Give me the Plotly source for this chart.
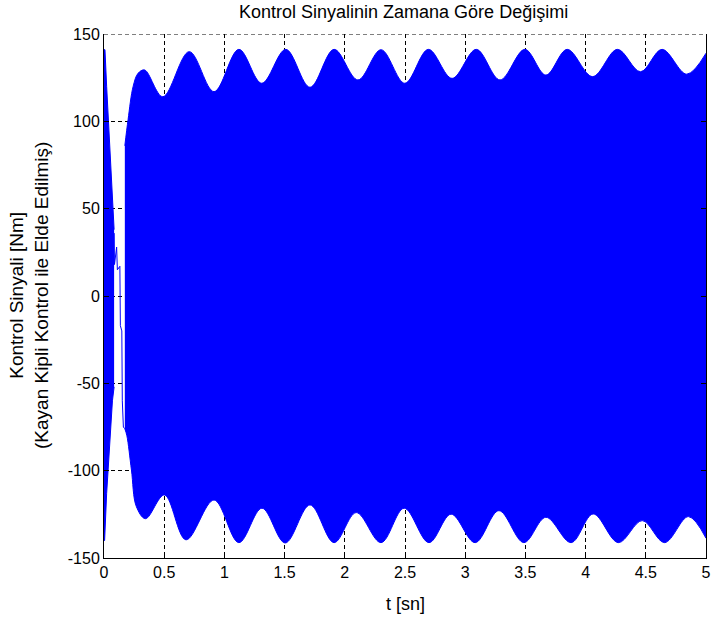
import plotly.graph_objects as go

# ---------------- data ----------------
# initial transient strip (chattering band at the very start)
strip_t_upper = [0.0, 0.008, 0.022, 0.035, 0.049, 0.063, 0.077, 0.084]
strip_upper = [141, 141, 120, 101, 82, 63, 44, 38]
strip_t_lower = [0.0, 0.005, 0.022, 0.035, 0.055, 0.07, 0.084]
strip_lower = [-140, -140, -113, -98, -78, -60, -52]

# single trace of the signal inside the gap
gap_t = [0.085, 0.087, 0.105, 0.111, 0.132, 0.136, 0.148, 0.152, 0.161, 0.173]
gap_v = [36, 18, 28, 15, 17, -17, -20, -60, -75, -76]

# upper envelope of the chattering band
upper_t = [0.173, 0.2, 0.242, 0.283, 0.338, 0.489, 0.708, 0.914, 1.12, 1.31,
           1.51, 1.711, 1.911, 2.109, 2.301, 2.498, 2.694, 2.891, 3.092, 3.289,
           3.495, 3.67, 3.847, 4.058, 4.264, 4.456, 4.635, 4.84, 5.0]
upper_v = [86, 101, 120, 127.5, 129.4, 114.1, 139.9, 117, 141.2, 121.8,
           141.2, 119.5, 141.2, 123.7, 141, 121.8, 141.2, 124.6, 141.2, 123.7,
           141.2, 126.5, 141.2, 125.6, 141.2, 128.4, 141.2, 127, 139]

# lower envelope of the chattering band
lower_t = [0.173, 0.19, 0.228, 0.269, 0.345, 0.502, 0.681, 0.914, 1.12, 1.312,
           1.505, 1.711, 1.911, 2.095, 2.301, 2.493, 2.699, 2.883, 3.083, 3.28,
           3.487, 3.67, 3.88, 4.063, 4.272, 4.47, 4.656, 4.854, 5.0]
lower_v = [-76, -80, -99.6, -120.6, -127.5, -113.9, -139.6, -116.8, -141.2, -121.5,
           -141.4, -119.6, -141.2, -124, -141.2, -121.5, -141.2, -124.9, -141.2, -122.9,
           -141.2, -126.7, -141.2, -124.8, -141.2, -128.6, -141.2, -126.3, -138.7]

x_ticks = [0, 0.5, 1, 1.5, 2, 2.5, 3, 3.5, 4, 4.5, 5]
x_labels = ["0", "0.5", "1", "1.5", "2", "2.5", "3", "3.5", "4", "4.5", "5"]
y_ticks = [-150, -100, -50, 0, 50, 100, 150]
y_labels = ["-150", "-100", "-50", "0", "50", "100", "150"]

title_text = "Kontrol Sinyalinin Zamana Göre Değişimi"
x_title = "t [sn]"
y_title = "Kontrol Sinyali [Nm]<br>(Kayan Kipli Kontrol ile Elde Edilmiş)"

BLUE = "#0000ff"
FONT = "Liberation Sans, Arial, sans-serif"

fig = go.Figure()

# initial strip
fig.add_trace(go.Scatter(x=strip_t_lower, y=strip_lower, mode="lines",
                         line=dict(color=BLUE, width=1), hoverinfo="skip", showlegend=False))
fig.add_trace(go.Scatter(x=strip_t_upper, y=strip_upper, mode="lines", fill="tonexty",
                         fillcolor=BLUE, line=dict(color=BLUE, width=1),
                         hoverinfo="skip", showlegend=False))
# thin line in gap
fig.add_trace(go.Scatter(x=gap_t, y=gap_v, mode="lines",
                         line=dict(color=BLUE, width=1), hoverinfo="skip", showlegend=False))
# main chattering band
fig.add_trace(go.Scatter(x=lower_t, y=lower_v, mode="lines",
                         line=dict(color=BLUE, width=1, shape="spline", smoothing=1),
                         hoverinfo="skip", showlegend=False))
fig.add_trace(go.Scatter(x=upper_t, y=upper_v, mode="lines", fill="tonexty",
                         fillcolor=BLUE,
                         line=dict(color=BLUE, width=1, shape="spline", smoothing=1),
                         hoverinfo="skip", showlegend=False))

fig.update_layout(
    width=717, height=620,
    margin=dict(l=104, r=6, t=34, b=62),
    paper_bgcolor="white", plot_bgcolor="white",
    font=dict(family=FONT, size=16, color="black"),
    showlegend=False,
    xaxis=dict(range=[0, 5], tickmode="array", tickvals=x_ticks, ticktext=x_labels,
               showline=True, linecolor="black", linewidth=1, mirror=False,
               ticks="inside", ticklen=5, tickcolor="black",
               showgrid=True, gridcolor="black", gridwidth=1, griddash="4px,3px",
               zeroline=False, tickfont=dict(size=16)),
    xaxis2=dict(range=[0, 5], overlaying="x", side="top", tickmode="array",
                tickvals=x_ticks, showticklabels=False, showline=False,
                ticks="inside", ticklen=5, tickcolor="black", showgrid=False,
                zeroline=False),
    yaxis=dict(range=[-150, 150], tickmode="array", tickvals=y_ticks, ticktext=y_labels,
               showline=True, linecolor="black", linewidth=1, mirror="ticks",
               ticks="inside", ticklen=5, tickcolor="black",
               showgrid=True, gridcolor="black", gridwidth=1, griddash="4px,3px",
               zeroline=False, tickfont=dict(size=16)),
)

# dashed top border (grid line at 150)
fig.add_shape(type="line", xref="paper", yref="y", x0=0, x1=1, y0=150, y1=150,
              line=dict(color="black", width=1, dash="4px,3px"))

fig.add_annotation(text=title_text, xref="paper", yref="paper", x=0.497, y=1,
                   yshift=22, showarrow=False, xanchor="center", yanchor="middle",
                   font=dict(size=18))
fig.add_annotation(text=x_title, xref="paper", yref="paper", x=0.5, y=0,
                   yshift=-46, showarrow=False, xanchor="center", yanchor="middle",
                   font=dict(size=18))
fig.add_annotation(text=y_title, xref="paper", yref="paper", x=0, y=0.5,
                   xshift=-75, showarrow=False, xanchor="center", yanchor="middle",
                   textangle=-90, font=dict(size=19))

fig.write_html("out.html")
